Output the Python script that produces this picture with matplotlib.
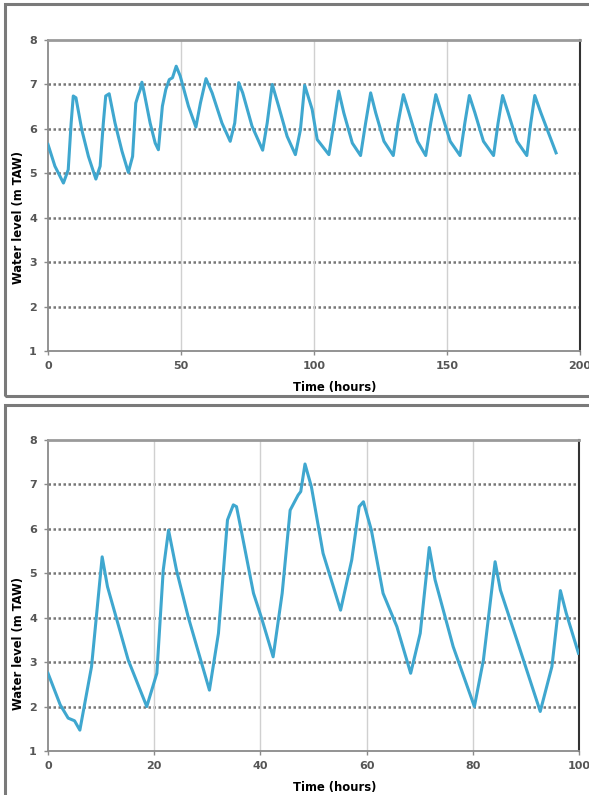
import numpy as np
import matplotlib
matplotlib.use("Agg")
import matplotlib.pyplot as plt
from matplotlib.patches import Rectangle
from matplotlib import font_manager

# Water level readings, top chart (about 8 days)
top_hours = [0, 2.6, 5.8, 7.6, 8.7, 9.5, 10.5, 12.7, 15.2, 18.0,
             19.6, 20.8, 21.7, 23.0, 25.2, 27.8, 30.2, 31.8, 33.0, 33.8,
             34.7, 35.3, 35.9, 38.4, 40.3, 41.5, 43.0, 44.3, 45.6, 46.8,
             48.2, 49.7, 52.8, 55.6, 57.3, 59.4, 61.7, 65.4, 68.5, 70.2,
             71.7, 73.2, 76.7, 80.7, 82.4, 84.3, 86.7, 89.9, 93.0, 94.9,
             96.5, 99.3, 101.2, 105.6, 107.5, 109.3, 111.2, 114.4, 117.5, 119.4,
             121.3, 123.2, 126.3, 129.8, 131.6, 133.6, 135.7, 138.9, 142.0, 143.9,
             145.8, 147.9, 151.2, 154.9, 156.7, 158.4, 160.5, 163.7, 167.5, 169.2,
             170.9, 173.0, 176.3, 180.0, 181.5, 183.0, 185.3, 191.0]
top_level = [5.65, 5.16, 4.78, 5.08, 6.13, 6.74, 6.70, 5.98, 5.38, 4.87,
             5.16, 6.13, 6.74, 6.79, 6.13, 5.50, 5.02, 5.38, 6.58, 6.74,
             6.89, 7.05, 6.89, 6.13, 5.68, 5.53, 6.51, 6.89, 7.11, 7.15,
             7.41, 7.19, 6.51, 6.04, 6.58, 7.13, 6.81, 6.13, 5.72, 6.13,
             7.04, 6.81, 6.06, 5.52, 6.13, 7.00, 6.51, 5.83, 5.42, 5.98,
             6.98, 6.44, 5.76, 5.42, 6.13, 6.85, 6.36, 5.68, 5.40, 6.13,
             6.81, 6.36, 5.72, 5.40, 6.13, 6.77, 6.36, 5.72, 5.40, 6.13,
             6.77, 6.36, 5.72, 5.40, 6.13, 6.75, 6.36, 5.72, 5.40, 6.13,
             6.75, 6.36, 5.72, 5.40, 6.13, 6.75, 6.36, 5.46]

# Water level readings, bottom chart (first 100 hours)
bottom_hours = [0, 2.3, 3.8, 5.0, 6.0, 8.2, 10.2, 11.2, 15.1, 18.6,
                20.5, 21.7, 22.7, 24.2, 26.4, 30.4, 32.1, 33.8, 34.9, 35.5,
                36.5, 38.7, 40.2, 42.4, 44.1, 45.6, 47.1, 47.6, 48.4, 49.6,
                51.8, 55.1, 57.2, 58.6, 59.4, 60.9, 63.1, 65.7, 68.3, 70.1,
                71.8, 72.9, 76.3, 80.3, 82.0, 84.2, 85.2, 88.3, 92.7, 94.9,
                96.5, 97.6, 99.9]
bottom_level = [2.75, 2.04, 1.74, 1.68, 1.47, 2.9, 5.37, 4.7, 3.05, 2.0,
                2.75, 5.07, 5.97, 5.07, 4.02, 2.37, 3.65, 6.2, 6.54, 6.5,
                5.9, 4.55, 4.0, 3.12, 4.55, 6.42, 6.76, 6.84, 7.46, 6.95,
                5.45, 4.17, 5.3, 6.5, 6.61, 5.97, 4.55, 3.8, 2.75, 3.65,
                5.58, 4.85, 3.35, 2.0, 3.05, 5.26, 4.62, 3.5, 1.89, 2.9,
                4.61, 4.1, 3.2]

top_xticks = [0, 50, 100, 150, 200]
bottom_xticks = [0, 20, 40, 60, 80, 100]
yticks = [1, 2, 3, 4, 5, 6, 7, 8]

line_color = "#3fa7cf"

# look for a narrow bold face for the axis titles (original uses a condensed font)
narrow_file = None
for f in font_manager.fontManager.ttflist:
    is_bold = f.weight in ("bold", 700, "700")
    is_narrow = ("Narrow" in f.name or "Condensed" in f.name
                 or f.stretch in ("condensed", "semi-condensed", "extra-condensed"))
    if is_bold and is_narrow:
        narrow_file = f.fname
        break
if narrow_file:
    label_fp = font_manager.FontProperties(fname=narrow_file, size=9.3)
else:
    label_fp = font_manager.FontProperties(family="DejaVu Sans", weight="bold", size=7.5)

fig = plt.figure(figsize=(5.89, 7.95), dpi=100)
W, H = 589.0, 795.0


def fig_rect(x0, y0, x1, y1):
    # pixel box (top-left origin) -> figure fraction [left, bottom, width, height]
    return [x0 / W, 1 - y1 / H, (x1 - x0) / W, (y1 - y0) / H]


# outer frames around each chart
for (x0, y0, x1, y1) in [(5, 4, 600, 396), (5, 405, 600, 810)]:
    r = fig_rect(x0, y0, x1, y1)
    fig.patches.append(Rectangle((r[0], r[1]), r[2], r[3], transform=fig.transFigure,
                                 fill=False, edgecolor="#7a7a7a", linewidth=2.2))


def style_axes(ax, hours, level, xticks, xmax):
    ax.plot(hours, level, color=line_color, linewidth=2.2, zorder=3)
    ax.set_xlim(0, xmax)
    ax.set_ylim(1, 8)
    ax.set_xticks(xticks)
    ax.set_yticks(yticks)
    # dotted horizontal grid, light vertical grid
    for v in yticks[1:-1]:
        ax.axhline(v, color="#777777", linewidth=1.8, linestyle=(0, (1, 1)), zorder=1)
    for t in xticks[1:-1]:
        ax.axvline(t, color="#d0d0d0", linewidth=1.0, zorder=1)
    ax.spines["top"].set_color("#9a9a9a")
    ax.spines["top"].set_linewidth(2.0)
    ax.spines["right"].set_color("#333333")
    ax.spines["right"].set_linewidth(1.5)
    ax.spines["left"].set_color("#8a8a8a")
    ax.spines["left"].set_linewidth(1.3)
    ax.spines["bottom"].set_color("#8a8a8a")
    ax.spines["bottom"].set_linewidth(1.3)
    ax.tick_params(axis="both", colors="#8a8a8a", length=3, width=1,
                   labelsize=8, labelcolor="#555555")
    ax.tick_params(axis="y", pad=5)
    ax.tick_params(axis="x", pad=4)
    for lab in ax.get_xticklabels() + ax.get_yticklabels():
        lab.set_fontweight("bold")


ax1 = fig.add_axes(fig_rect(48, 40, 580, 351))
style_axes(ax1, top_hours, top_level, top_xticks, 200)

ax2 = fig.add_axes(fig_rect(48, 440, 579, 751))
style_axes(ax2, bottom_hours, bottom_level, bottom_xticks, 100)

# axis titles
fig.text(19 / W, 1 - 218 / H, "Water level (m TAW)", rotation=90, ha="center", va="center",
         fontproperties=label_fp)
fig.text(335 / W, 1 - 388 / H, "Time (hours)", ha="center", va="center",
         fontproperties=label_fp)
fig.text(19 / W, 1 - 644 / H, "Water level (m TAW)", rotation=90, ha="center", va="center",
         fontproperties=label_fp)
fig.text(335 / W, 1 - 788 / H, "Time (hours)", ha="center", va="center",
         fontproperties=label_fp)

fig.savefig("out.png", dpi=100, facecolor="white")
